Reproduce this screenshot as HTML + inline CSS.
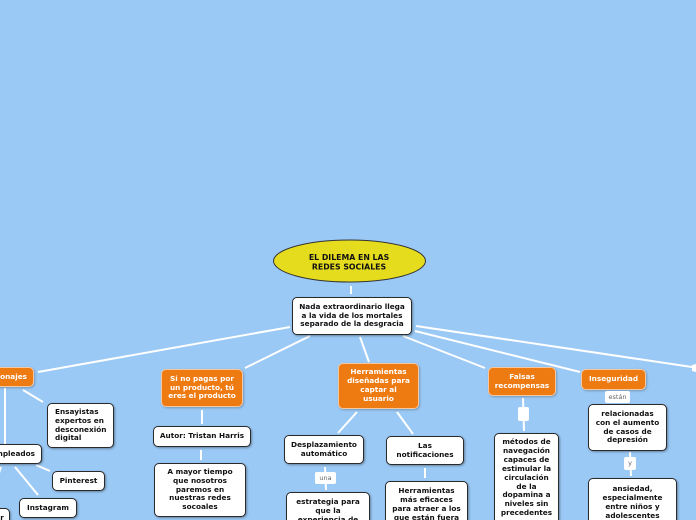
<!DOCTYPE html>
<html><head><meta charset="utf-8">
<style>
html,body{margin:0;padding:0;overflow:hidden;height:520px}
body{width:696px;height:520px;overflow:hidden;background:#9bc9f5;position:relative;font-family:"DejaVu Sans","Liberation Sans",sans-serif;}
.b,.o{position:absolute;box-sizing:border-box;border-radius:5px;font-size:7.3px;font-weight:bold;text-align:center;display:flex;align-items:center;justify-content:center;line-height:8.9px;padding:2px 0;letter-spacing:0;overflow:hidden;white-space:nowrap}
.b{background:#fff;border:1.5px solid #2a2a2a;box-shadow:1px 1px 2px rgba(0,0,0,.35);color:#111}
.o{background:#ee7a12;border:1.5px solid #f6c8a0;box-shadow:1px 1px 2px rgba(0,0,0,.25);color:#fff}
.l{position:absolute;background:#fff;font-size:6.5px;color:#666;text-align:center;line-height:12px;border-radius:2px}
svg{position:absolute;left:0;top:0}
</style></head><body>
<svg width="696" height="520">
<g stroke="#fff" stroke-width="2" fill="none">
<line x1="351" y1="286" x2="351" y2="294"/>
<line x1="290" y1="327" x2="38" y2="372"/>
<line x1="310" y1="336" x2="245" y2="368"/>
<line x1="360" y1="337" x2="369" y2="362"/>
<line x1="403" y1="336" x2="485" y2="368"/>
<line x1="415" y1="331" x2="580" y2="372"/>
<line x1="416" y1="326" x2="692" y2="367"/>
<line x1="202" y1="410" x2="202" y2="424"/>
<line x1="201" y1="450" x2="201" y2="460"/>
<line x1="357" y1="412" x2="338" y2="433"/>
<line x1="397" y1="412" x2="413" y2="434"/>
<line x1="325" y1="467" x2="326" y2="490"/>
<line x1="425" y1="468" x2="425" y2="478"/>
<line x1="523" y1="398" x2="524" y2="431"/>
<line x1="630" y1="452" x2="631" y2="476"/>
<line x1="5" y1="388" x2="5" y2="444"/>
<line x1="23" y1="390" x2="43" y2="402"/>
<line x1="15" y1="467" x2="38" y2="495"/>
<line x1="36" y1="465" x2="50" y2="471"/>
<line x1="1" y1="467" x2="-2" y2="476"/>
</g>
<polygon points="696,364 692,365 692,371 696,372" fill="#fff"/>
<ellipse cx="349.5" cy="261" rx="76" ry="21" fill="#e6dc1e" stroke="#333" stroke-width="1"/>
<text x="349" y="260" font-family="DejaVu Sans,sans-serif" font-size="7.8" font-weight="bold" text-anchor="middle" fill="#111">EL DILEMA EN LAS</text>
<text x="349" y="269.5" font-family="DejaVu Sans,sans-serif" font-size="7.8" font-weight="bold" text-anchor="middle" fill="#111">REDES SOCIALES</text>
</svg>

<div class="b" style="left:292px;top:297px;width:120px;height:38px">Nada extraordinario llega<br>a la vida de los mortales<br>separado de la desgracia</div>

<div class="o" style="left:-6px;top:367px;width:40px;height:20px;justify-content:flex-end;padding-right:6px">onajes</div>
<div class="b" style="left:47px;top:403px;width:67px;height:45px;text-align:left;justify-content:flex-start;padding-left:7px">Ensayistas<br>expertos en<br>desconexión<br>digital</div>
<div class="b" style="left:-8px;top:444px;width:50px;height:20px;justify-content:flex-end;padding-right:6px">mpleados</div>
<div class="b" style="left:52px;top:471px;width:53px;height:20px">Pinterest</div>
<div class="b" style="left:19px;top:498px;width:58px;height:20px">Instagram</div>
<div class="b" style="left:-6px;top:508px;width:16px;height:20px">r</div>

<div class="o" style="left:161px;top:369px;width:82px;height:38px">Si no pagas por<br>un producto, tú<br>eres el producto</div>
<div class="b" style="left:153px;top:426px;width:98px;height:21px">Autor: Tristan Harris</div>
<div class="b" style="left:154px;top:463px;width:92px;height:54px">A mayor tiempo<br>que nosotros<br>paremos en<br>nuestras redes<br>socoales</div>

<div class="o" style="left:338px;top:363px;width:81px;height:46px">Herramientas<br>diseñadas para<br>captar al<br>usuario</div>
<div class="b" style="left:284px;top:435px;width:80px;height:29px">Desplazamiento<br>automático</div>
<div class="l" style="left:315px;top:472px;width:21px;height:12px">una</div>
<div class="b" style="left:286px;top:492px;width:84px;height:40px;align-items:flex-start;padding-top:5px">estrategia para<br>que la<br>experiencia de</div>
<div class="b" style="left:386px;top:436px;width:78px;height:29px">Las<br>notificaciones</div>
<div class="b" style="left:385px;top:481px;width:83px;height:50px;align-items:flex-start;padding-top:5px">Herramientas<br>más eficaces<br>para atraer a los<br>que están fuera</div>

<div class="o" style="left:488px;top:367px;width:68px;height:29px">Falsas<br>recompensas</div>
<div class="l" style="left:518px;top:407px;width:11px;height:14px"></div>
<div class="b" style="left:494px;top:433px;width:65px;height:95px;align-items:flex-start;padding-top:4px">métodos de<br>navegación<br>capaces de<br>estimular la<br>circulación<br>de la<br>dopamina a<br>niveles sin<br>precedentes</div>

<div class="o" style="left:581px;top:369px;width:65px;height:21px">Inseguridad</div>
<div class="l" style="left:605px;top:391px;width:25px;height:12px">están</div>
<div class="b" style="left:588px;top:404px;width:79px;height:47px">relacionadas<br>con el aumento<br>de casos de<br>depresión</div>
<div class="l" style="left:624px;top:457px;width:12px;height:13px">y</div>
<div class="b" style="left:588px;top:478px;width:89px;height:50px;align-items:flex-start;padding-top:6px">ansiedad,<br>especialmente<br>entre niños y<br>adolescentes</div>
</body></html>
